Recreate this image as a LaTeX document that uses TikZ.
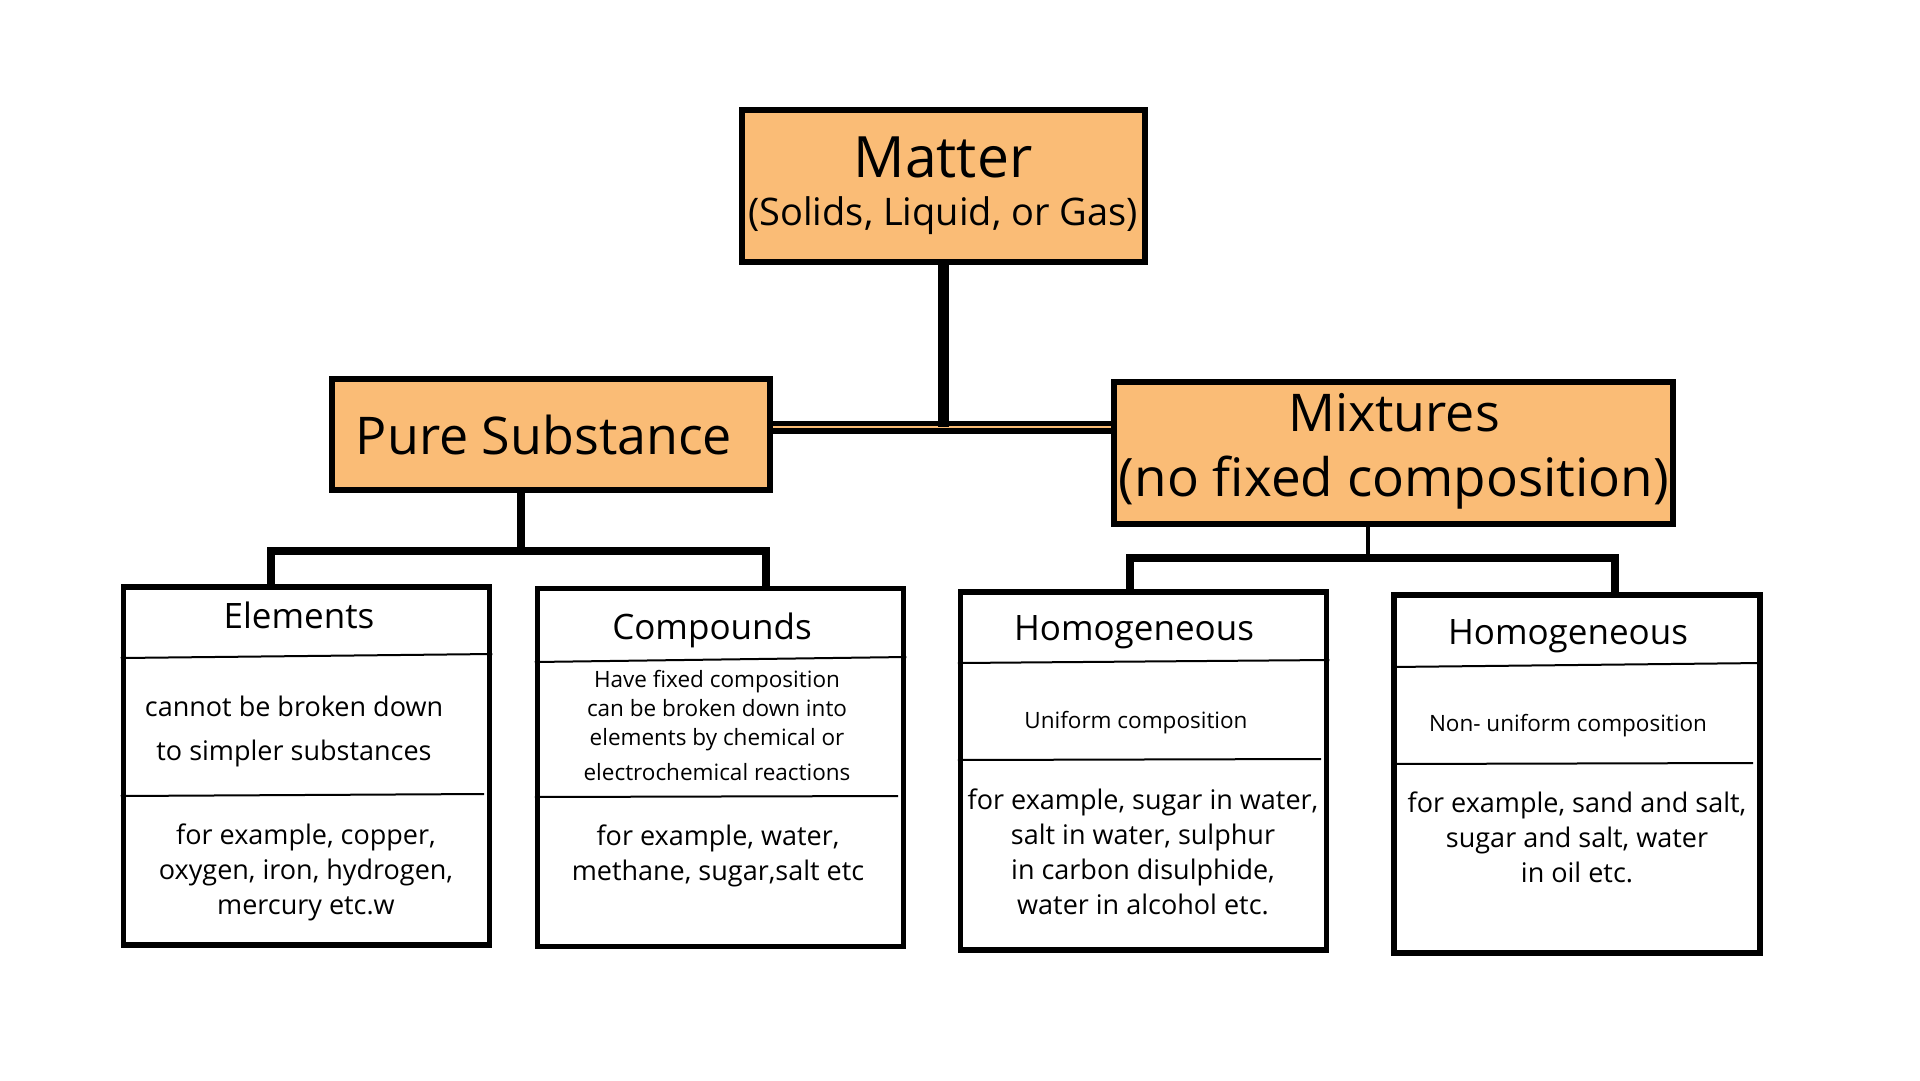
\documentclass[tikz,border=0pt]{standalone}
\usepackage{fontspec}
\setmainfont{Open Sans}
\definecolor{matterorange}{RGB}{250,188,118}

\begin{document}
\begin{tikzpicture}[x=1pt, y=-1pt,
    headbox/.style={draw, line width=6pt, fill=matterorange, inner sep=0pt},
    leafbox/.style={draw, line width=5.5pt, inner sep=0pt, minimum width=366pt, minimum height=358pt},
    divider/.style={line width=2pt},
    link/.style={line width=7.5pt},
    bigtext/.style={inner sep=0pt, font=\fontsize{52}{60}\selectfont},
    headtext/.style={inner sep=0pt, font=\fontsize{35}{42}\selectfont},
    bodytext/.style={inner sep=0pt, align=center, font=\fontsize{27}{35}\selectfont},
    smalltext/.style={inner sep=0pt, align=center, font=\fontsize{22.5}{29}\selectfont}]

  \useasboundingbox (0,0) rectangle (1920,1080);

  % top level
  \node[headbox, minimum width=403pt, minimum height=152pt] (matter) at (943,185.5) {};
  \node[headbox, minimum width=438pt, minimum height=111pt] (pure) at (551,434) {};
  \node[headbox, minimum width=559pt, minimum height=142pt] (mix) at (1393,452.5) {};

  \node[inner sep=0pt, font=\fontsize{57}{66}\selectfont] (mattername) at (943,157) {Matter};
  \node[inner sep=0pt, font=\fontsize{38}{44}\selectfont] (matterkinds) at (943,216) {(Solids, Liquid, or Gas)};
  \node[bigtext] (purename) at (544,435) {Pure Substance};
  \node[bigtext] (mixname) at (1394,413) {Mixtures};
  \node[bigtext, font=\fontsize{53}{60}\selectfont] (mixkinds) at (1394,483) {(no fixed composition)};

  % leaves
  \node[leafbox] (el) at (306.5,766) {};
  \node[leafbox] (co) at (720.5,767.5) {};
  \node[leafbox] (ho) at (1143.5,771) {};
  \node[leafbox] (he) at (1577,774) {};

  \draw[divider] (el.west |- 0,658) -- (el.east |- 0,654);
  \draw[divider] (el.west |- 0,796) -- (484,794);
  \draw[divider] (co.west |- 0,662) -- (co.east |- 0,657);
  \draw[divider] (co.west |- 0,797) -- (898,796);
  \draw[divider] (ho.west |- 0,663) -- (ho.east |- 0,660);
  \draw[divider] (ho.west |- 0,760) -- (1321,759);
  \draw[divider] (he.west |- 0,667) -- (he.east |- 0,663);
  \draw[divider] (he.west |- 0,764) -- (1753,763);

  \node[headtext] (eltitle) at (299,615) {Elements};
  \node[bodytext, font=\fontsize{27}{44}\selectfont] (eltext) at (294,731) {cannot be broken down\\to simpler substances};
  \node[bodytext] (elcases) at (306,872) {for example, copper,\\oxygen, iron, hydrogen,\\mercury etc.w};

  \node[headtext] (cotitle) at (712,630) {Compounds};
  \node[smalltext] (cotext) at (717,725) {Have fixed composition\\can be broken down into\\elements by chemical or\\[6pt]electrochemical reactions};
  \node[bodytext] (cocases) at (718,856) {for example, water,\\methane, sugar,salt etc};

  \node[headtext] (hotitle) at (1134,632) {Homogeneous};
  \node[smalltext] (hotext) at (1136,723) {Uniform composition};
  \node[bodytext] (hocases) at (1143,852) {for example, sugar in water,\\salt in water, sulphur\\in carbon disulphide,\\water in alcohol etc.};

  \node[headtext] (hetitle) at (1568,636) {Homogeneous};
  \node[smalltext] (hetext) at (1568,726) {Non- uniform composition};
  \node[bodytext] (hecases) at (1577,837) {for example, sand and salt,\\sugar and salt, water\\in oil etc.};

  % connectors
  \coordinate (hub) at (943,427);
  \coordinate (purebar) at (521,551);
  \coordinate (eldrop) at (271,551);
  \coordinate (codrop) at (766,551);
  \coordinate (mixbar) at (1368,558);
  \coordinate (hodrop) at (1130,558);
  \coordinate (hedrop) at (1615,558);

  \draw[line width=5.5pt, double=matterorange, double distance=2pt] (pure.east |- hub) -- (mix.west |- hub);
  \draw[line width=11pt] (matter.south) -- (hub);
  \draw[link] (pure.south -| purebar) -- (purebar);
  \draw[link] (eldrop |- el.north) -- (eldrop) -- (codrop) -- (codrop |- co.north);
  \draw[line width=4pt] (mix.south -| mixbar) -- (mixbar);
  \draw[link] (hodrop |- ho.north) -- (hodrop) -- (hedrop) -- (hedrop |- he.north);
\end{tikzpicture}
\end{document}
